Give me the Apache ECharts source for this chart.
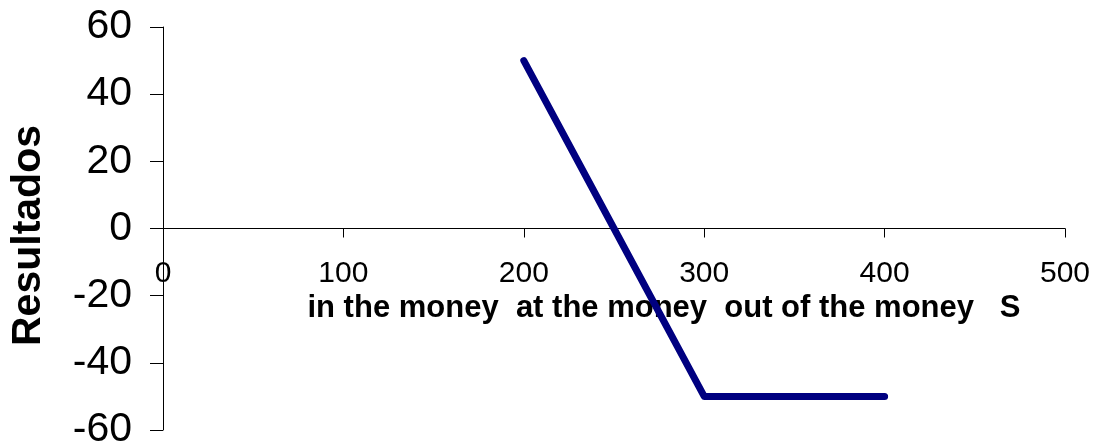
<!DOCTYPE html>
<html>
<head>
<meta charset="utf-8">
<script src="https://cdn.jsdelivr.net/npm/echarts@6/dist/echarts.min.js"></script>
<style>
  html, body { margin: 0; padding: 0; background: #fff; }
  #main { width: 1094px; height: 445px; }
</style>
</head>
<body>
<div id="main"></div>
<script>
// precio del subyacente S y resultado de la posición
const precios = [200, 250, 300, 400];
const resultados = [50, 0, -50, -50];
const xTicks = [0, 100, 200, 300, 400, 500];
const yTicks = [-60, -40, -20, 0, 20, 40, 60];
const xNombre = "in the money  at the money  out of the money   S";
const yNombre = "Resultados";

const chart = echarts.init(document.getElementById("main"));

const gridTop = 27;
const gridBottom = 15;
const gridH = 445 - gridTop - gridBottom;
// el eje X cruza en y = 0
const yMin = yTicks[0];
const yMax = yTicks[yTicks.length - 1];
const xOffset = -gridH * (0 - yMin) / (yMax - yMin);

const option = {
  animation: false,
  backgroundColor: "#fff",
  grid: {
    left: 163, right: 29, top: gridTop, bottom: gridBottom,
    containLabel: false,
    outerBoundsMode: "none",
  },
  xAxis: {
    type: "value",
    min: xTicks[0],
    max: xTicks[xTicks.length - 1],
    interval: 100,
    offset: xOffset,
    axisLine: { show: true, onZero: false, lineStyle: { color: "#000", width: 1 } },
    axisTick: { show: true, length: 9, inside: false, lineStyle: { color: "#000" } },
    splitLine: { show: false },
    axisLabel: {
      margin: 30,
      fontFamily: "Liberation Sans, Arial",
      fontSize: 30,
      color: "#000",
    },
    name: xNombre,
    nameLocation: "middle",
    nameGap: 56,
    nameTextStyle: {
      fontFamily: "Liberation Sans, Arial",
      fontWeight: "bold",
      fontSize: 31,
      color: "#000",
      padding: [0, 0, 0, 100],
    },
  },
  yAxis: {
    type: "value",
    min: yMin,
    max: yMax,
    interval: 20,
    axisLine: { show: true, onZero: false, lineStyle: { color: "#000", width: 1 } },
    axisTick: { show: true, length: 13, inside: false, lineStyle: { color: "#000" } },
    splitLine: { show: false },
    axisLabel: {
      margin: 31,
      fontFamily: "Liberation Sans, Arial",
      fontSize: 41,
      color: "#000",
    },
    name: yNombre,
    nameLocation: "middle",
    nameGap: 114,
    nameRotate: 90,
    nameTextStyle: {
      fontFamily: "Liberation Sans, Arial",
      fontWeight: "bold",
      fontSize: 41,
      color: "#000",
      padding: [0, 14, 0, 0],
    },
  },
  series: [
    {
      type: "line",
      data: precios.map((p, i) => [p, resultados[i]]),
      showSymbol: false,
      lineStyle: { color: "#000080", width: 7, cap: "round", join: "round" },
    },
  ],
};

chart.setOption(option);
</script>
</body>
</html>
